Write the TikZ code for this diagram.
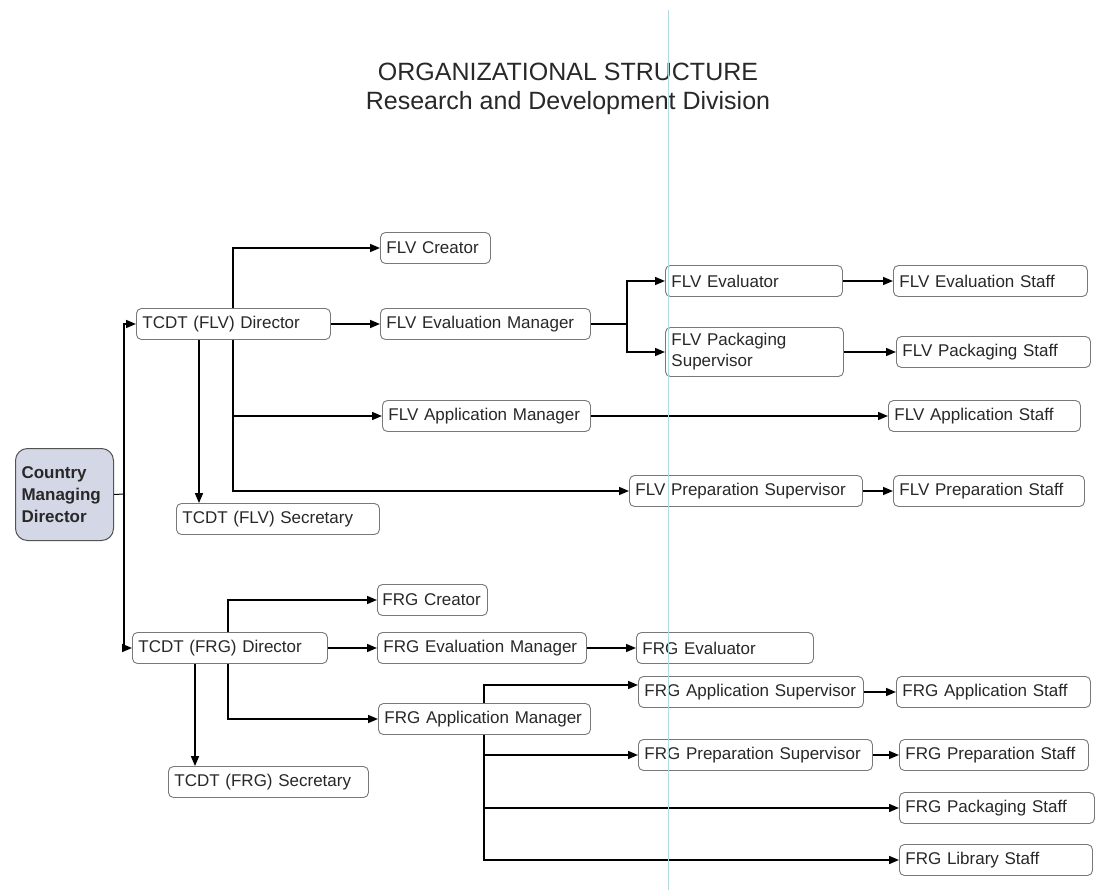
\documentclass[tikz,border=0pt]{standalone}
\usepackage{fontspec}
\setmainfont{Liberation Sans}
\usetikzlibrary{arrows.meta}
\definecolor{topfill}{RGB}{212,215,230}
\definecolor{boxline}{RGB}{120,120,120}
\definecolor{guide}{RGB}{175,220,228}
\definecolor{ink}{RGB}{40,40,40}
\tikzset{
  post/.style={draw=boxline, line width=0.9pt, rounded corners=5pt, fill=white,
    anchor=west, align=left, inner xsep=6pt, inner ysep=0pt,
    minimum height=31pt, text width=#1, text=ink,
    font=\fontsize{17}{21}\selectfont},
  arr/.style={line width=1.6pt, -{Triangle[length=10pt,width=8pt]}},
  link/.style={line width=1.6pt}
}
\begin{document}
\begin{tikzpicture}[x=1pt,y=-1pt]
	\useasboundingbox (0,0) rectangle (1099,890);
	% title
	\node[font=\fontsize{25}{29}\selectfont, align=center, text=ink] (title) at (568,89)
		{ORGANIZATIONAL STRUCTURE\\Research and Development Division};
	% top
	\node[draw=ink!80, line width=1pt, rounded corners=12pt, fill=topfill, anchor=north west,
		minimum width=98pt, minimum height=92pt, text width=86pt, inner xsep=6pt, align=left,
		text=ink, font=\bfseries\fontsize{17}{22}\selectfont] (cmd) at (15,448) {Country\\Managing\\Director};
	% FLV side
	\node[post=182pt] (flvdir) at (136,324) {TCDT (FLV) Director};
	\node[post=191pt] (flvsec) at (176,519) {TCDT (FLV) Secretary};
	\node[post=98pt]  (flvcre) at (380,248) {FLV Creator};
	\node[post=198pt] (flvevm) at (380,324) {FLV Evaluation Manager};
	\node[post=196pt] (flvapm) at (382,416) {FLV Application Manager};
	\node[post=165pt] (flvevr) at (665,281) {FLV Evaluator};
	\node[post=166pt, minimum height=49pt] (flvpks) at (665,352) {FLV Packaging\\Supervisor};
	\node[post=182pt] (flvevs) at (893,281) {FLV Evaluation Staff};
	\node[post=182pt] (flvpkst) at (896,352) {FLV Packaging Staff};
	\node[post=180pt] (flvaps) at (888,416) {FLV Application Staff};
	\node[post=221pt] (flvprs) at (629,491) {FLV Preparation Supervisor};
	\node[post=179pt] (flvprst) at (893,491) {FLV Preparation Staff};
	% FRG side
	\node[post=183pt] (frgdir) at (132,648) {TCDT (FRG) Director};
	\node[post=188pt] (frgsec) at (168,782) {TCDT (FRG) Secretary};
	\node[post=100pt, inner xsep=5pt] (frgcre) at (377,600) {FRG Creator};
	\node[post=197pt] (frgevm) at (377,648) {FRG Evaluation Manager};
	\node[post=200pt] (frgapm) at (378,719) {FRG Application Manager};
	\node[post=165pt] (frgevr) at (636,648) {FRG Evaluator};
	\node[post=213pt] (frgass) at (638,692) {FRG Application Supervisor};
	\node[post=182pt] (frgast) at (896,692) {FRG Application Staff};
	\node[post=222pt] (frgprs) at (638,755) {FRG Preparation Supervisor};
	\node[post=177pt] (frgprst) at (899,755) {FRG Preparation Staff};
	\node[post=183pt] (frgpkst) at (899,808) {FRG Packaging Staff};
	\node[post=181pt] (frglbst) at (899,860) {FRG Library Staff};
	% bends
	\coordinate (spine) at (124,494);
	\coordinate (flvtap) at (199,0);
	\coordinate (flvtrunk) at (233,0);
	\coordinate (flvfork) at (627,0);
	\coordinate (frgtap) at (195,0);
	\coordinate (frgtrunk) at (228,0);
	\coordinate (frgbus) at (484,0);
	% links
	\draw[line width=1pt] (cmd.east) -- (spine);
	\draw[arr] (spine) |- (flvdir.west);
	\draw[arr] (spine) |- (frgdir.west);
	\draw[arr] (flvdir.south -| flvtap) -- (flvsec.north -| flvtap);
	\draw[arr] (flvdir.north -| flvtrunk) |- (flvcre.west);
	\draw[arr] (flvdir.south -| flvtrunk) |- (flvapm.west);
	\draw[arr] (flvdir.south -| flvtrunk) |- (flvprs.west);
	\draw[arr] (flvdir.east) -- (flvevm.west);
	\draw[link] (flvevm.east) -- (flvevm.east -| flvfork);
	\draw[arr] (flvevm.east -| flvfork) |- (flvevr.west);
	\draw[arr] (flvevm.east -| flvfork) |- (flvpks.west);
	\draw[arr] (flvevr.east) -- (flvevs.west);
	\draw[arr] (flvpks.east) -- (flvpkst.west);
	\draw[arr] (flvapm.east) -- (flvaps.west);
	\draw[arr] (flvprs.east) -- (flvprst.west);
	\draw[arr] (frgdir.south -| frgtap) -- (frgsec.north -| frgtap);
	\draw[arr] (frgdir.north -| frgtrunk) |- (frgcre.west);
	\draw[arr] (frgdir.south -| frgtrunk) |- (frgapm.west);
	\draw[arr] (frgdir.east) -- (frgevm.west);
	\draw[arr] (frgevm.east) -- (frgevr.west);
	\draw[arr] (frgapm.north -| frgbus) |- ([yshift=7pt]frgass.west);
	\draw[arr] (frgapm.south -| frgbus) |- (frgprs.west);
	\draw[arr] (frgapm.south -| frgbus) |- (frgpkst.west);
	\draw[arr] (frgapm.south -| frgbus) |- (frglbst.west);
	\draw[arr] (frgass.east) -- (frgast.west);
	\draw[arr] (frgprs.east) -- (frgprst.west);
	% guide line
	\draw[guide, line width=1pt] (668,10) -- (668,890);
\end{tikzpicture}
\end{document}
